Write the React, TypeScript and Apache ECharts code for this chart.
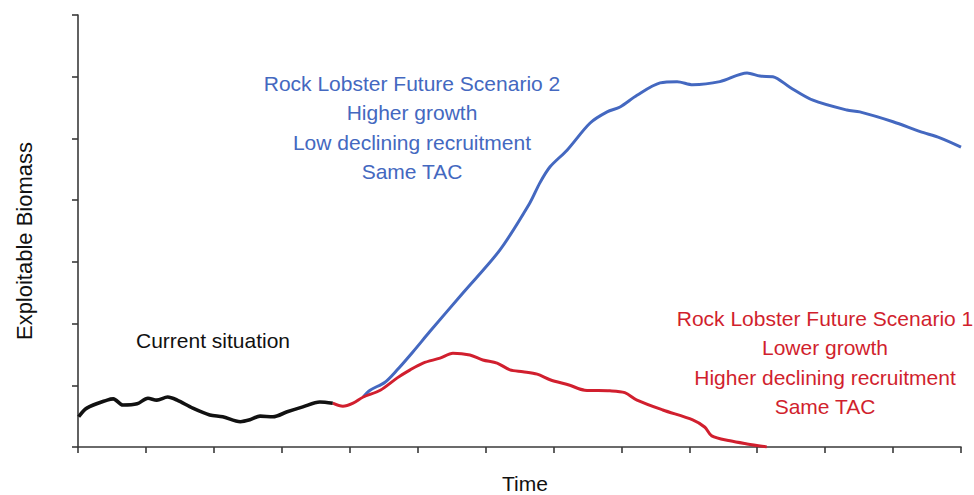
import React, { useEffect, useRef } from "react";
import * as echarts from "echarts";

// Time (tick units) / Exploitable biomass (tick units)
const currentX = [0.01, 0.13, 0.43, 0.52, 0.66, 0.87, 1.03, 1.16, 1.32, 1.46, 1.69, 1.94, 2.13, 2.39, 2.53, 2.68, 2.87, 3.08, 3.31, 3.56, 3.75];
const currentY = [0.49, 0.63, 0.76, 0.78, 0.68, 0.70, 0.79, 0.76, 0.81, 0.76, 0.63, 0.52, 0.49, 0.41, 0.44, 0.50, 0.49, 0.57, 0.65, 0.73, 0.71];

const scenario1X = [3.75, 3.9, 4.05, 4.2, 4.45, 4.7, 4.89, 5.08, 5.33, 5.52, 5.77, 5.96, 6.17, 6.36, 6.55, 6.76, 6.95, 7.24, 7.46, 7.83, 8.05, 8.23, 8.61, 9.05, 9.23, 9.33, 9.6, 9.85, 10.14];
const scenario1Y = [0.71, 0.66, 0.71, 0.81, 0.92, 1.12, 1.25, 1.36, 1.44, 1.52, 1.49, 1.41, 1.36, 1.25, 1.22, 1.18, 1.09, 1.0, 0.92, 0.91, 0.88, 0.76, 0.6, 0.44, 0.32, 0.18, 0.1, 0.05, 0.0];

const scenario2X = [4.2, 4.3, 4.52, 4.7, 4.93, 5.18, 5.67, 6.21, 6.65, 6.8, 6.95, 7.2, 7.54, 7.79, 7.98, 8.23, 8.57, 8.82, 9.05, 9.45, 9.85, 10.04, 10.23, 10.48, 10.82, 11.32, 11.51, 12.0, 12.4, 12.69, 13.0];
const scenario2Y = [0.81, 0.92, 1.05, 1.25, 1.54, 1.87, 2.5, 3.19, 3.95, 4.28, 4.54, 4.81, 5.25, 5.43, 5.51, 5.7, 5.9, 5.92, 5.87, 5.92, 6.06, 6.01, 6.0, 5.83, 5.62, 5.46, 5.43, 5.27, 5.11, 5.01, 4.86];

const blueLines = ["Rock Lobster Future Scenario 2", "Higher growth", "Low declining recruitment", "Same TAC"];
const redLines = ["Rock Lobster Future Scenario 1", "Lower growth", "Higher declining recruitment", "Same TAC"];

const BLUE = "#4468c0";
const RED = "#d11f2e";
const FONT = "'Liberation Sans', Arial, sans-serif";

const zip = (xs: number[], ys: number[]) => xs.map((x, i) => [x, ys[i]]);

export default function App() {
  const ref = useRef<HTMLDivElement>(null);
  useEffect(() => {
    if (!ref.current) return;
    const chart = echarts.init(ref.current, null, { renderer: "svg" });
    const textBlock = (lines: string[], cx: number, y0: number, color: string) =>
      lines.map((t, i) => ({
        type: "text",
        x: cx,
        y: y0 + i * 29.5,
        style: { text: t, fill: color, font: `21px ${FONT}`, textAlign: "center", textVerticalAlign: "middle" },
      }));
    const axisLine = { lineStyle: { color: "#3a3a3a", width: 1.6 } };
    chart.setOption({
      animation: false,
      backgroundColor: "#ffffff",
      grid: { left: 78, right: 13, top: 15, bottom: 48 },
      xAxis: {
        type: "value",
        min: 0,
        max: 13,
        interval: 1,
        axisLine,
        axisTick: { show: true, length: 6, lineStyle: { color: "#3a3a3a", width: 1.6 } },
        axisLabel: { show: false },
        splitLine: { show: false },
      },
      yAxis: {
        type: "value",
        min: 0,
        max: 7,
        interval: 1,
        axisLine: { show: true, ...axisLine },
        axisTick: { show: true, length: 6, lineStyle: { color: "#3a3a3a", width: 1.6 } },
        axisLabel: { show: false },
        splitLine: { show: false },
      },
      series: [
        {
          type: "line",
          data: zip(scenario2X, scenario2Y),
          showSymbol: false,
          smooth: 0.3,
          lineStyle: { color: BLUE, width: 3 },
          z: 2,
        },
        {
          type: "line",
          data: zip(scenario1X, scenario1Y),
          showSymbol: false,
          smooth: 0.3,
          lineStyle: { color: RED, width: 3 },
          z: 3,
        },
        {
          type: "line",
          data: zip(currentX, currentY),
          showSymbol: false,
          smooth: 0.3,
          lineStyle: { color: "#111111", width: 3.6 },
          z: 4,
        },
      ],
      graphic: [
        ...textBlock(blueLines, 412, 83, BLUE),
        ...textBlock(redLines, 825, 318, RED),
        {
          type: "text",
          x: 213,
          y: 340,
          style: { text: "Current situation", fill: "#111", font: `21px ${FONT}`, textAlign: "center", textVerticalAlign: "middle" },
        },
        {
          type: "text",
          x: 525,
          y: 483,
          style: { text: "Time", fill: "#111", font: `21px ${FONT}`, textAlign: "center", textVerticalAlign: "middle" },
        },
        {
          type: "text",
          x: 24,
          y: 241,
          rotation: Math.PI / 2,
          style: { text: "Exploitable Biomass", fill: "#111", font: `22px ${FONT}`, textAlign: "center", textVerticalAlign: "middle" },
        },
      ],
    });
    return () => chart.dispose();
  }, []);
  return <div ref={ref} style={{ width: 974, height: 495, position: "absolute", left: 0, top: 0 }} />;
}
